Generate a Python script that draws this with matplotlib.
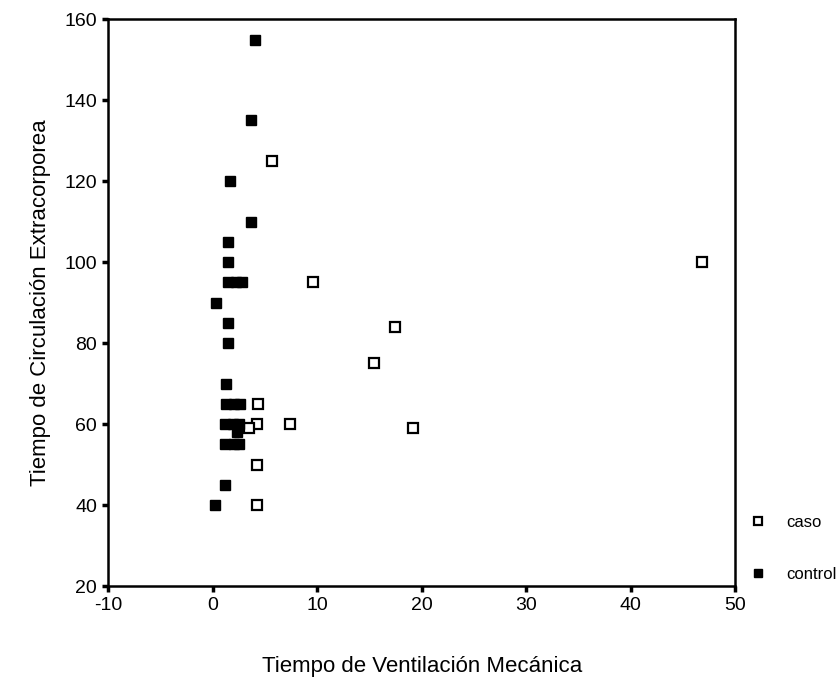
import matplotlib.pyplot as plt

plt.rcParams['font.family'] = ['Liberation Sans', 'DejaVu Sans']
plt.rcParams['axes.unicode_minus'] = False

# caso (hollow squares)
caso_x = [5.7, 9.6, 17.4, 15.4, 19.2, 4.3, 4.2, 7.4, 3.5, 4.2, 4.2, 46.8]
caso_y = [125, 95, 84, 75, 59, 65, 60, 60, 59, 50, 40, 100]

# control (filled squares)
control_x = [4.0, 3.7, 1.6, 3.7, 1.5, 1.5, 1.5, 2.2, 2.8, 0.3, 1.5, 1.5,
             1.3, 1.3, 2.0, 2.6, 1.2, 1.9, 2.5, 2.3, 1.2, 2.0, 2.5, 1.2, 0.2]
control_y = [155, 135, 120, 110, 105, 100, 95, 95, 95, 90, 85, 80,
             70, 65, 65, 65, 60, 60, 60, 58, 55, 55, 55, 45, 40]

fig = plt.figure(figsize=(8.4, 6.88), dpi=100)
ax = fig.add_axes([0.129, 0.148, 0.746, 0.824])

ax.plot(caso_x, caso_y, 's', ms=6.5, mfc='white', mec='black', mew=1.6,
        ls='none', label='caso')
ax.plot(control_x, control_y, 's', ms=6.5, mfc='black', mec='black',
        ls='none', label='control')

ax.set_xlim(-10, 50)
ax.set_ylim(20, 160)
ax.set_xticks(range(-10, 51, 10))
ax.set_yticks(range(20, 161, 20))

for s in ax.spines.values():
    s.set_linewidth(1.8)

ax.tick_params(direction='out', length=4, width=2.5, labelsize=14, pad=4)

ax.set_xlabel('Tiempo de Ventilación Mecánica', fontsize=16, labelpad=30)
ax.set_ylabel('Tiempo de Circulación Extracorporea', fontsize=16, labelpad=10)

ax.legend(loc='lower left', bbox_to_anchor=(1.0, -0.01), frameon=False,
          fontsize=12, labelspacing=2.2, handlelength=1.5, handletextpad=1.0,
          borderaxespad=0.2, markerscale=0.8)

fig.savefig('out.png', dpi=100)
